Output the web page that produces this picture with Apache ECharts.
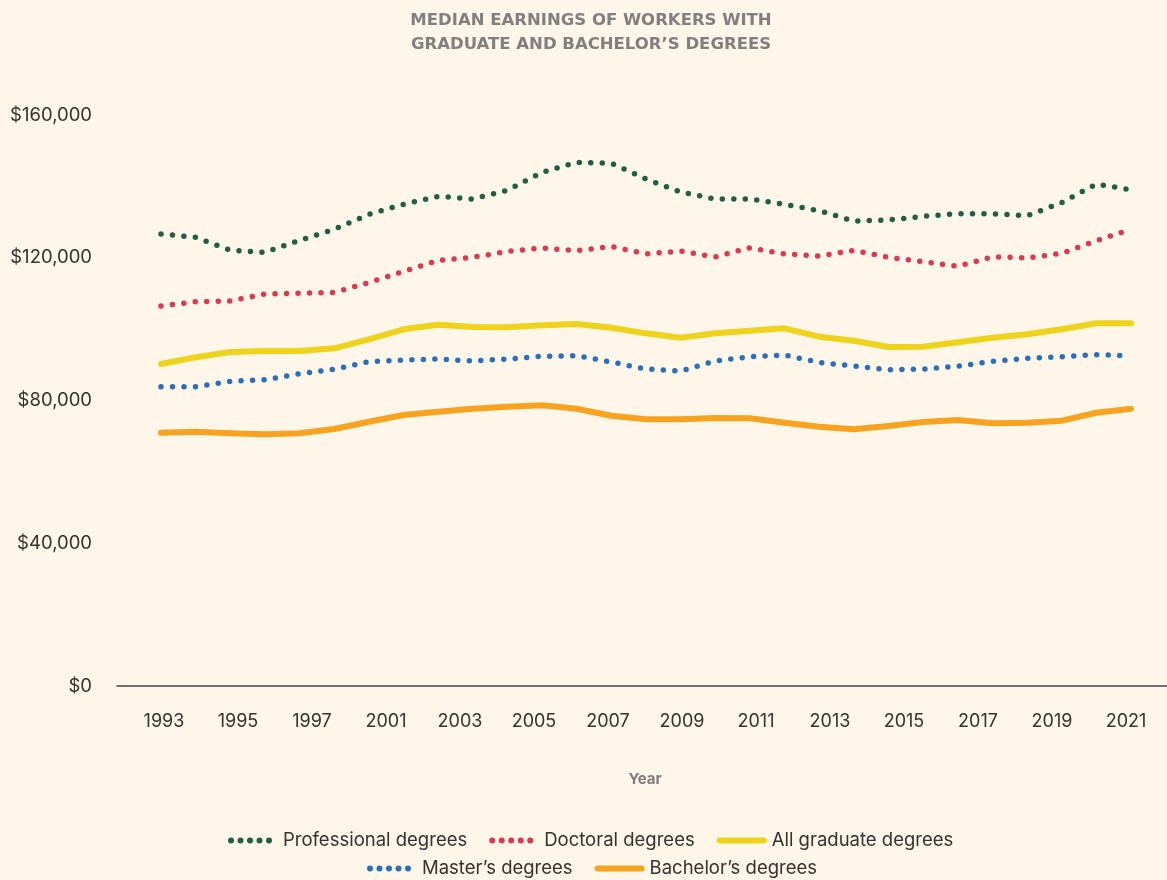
<!DOCTYPE html>
<html>
<head>
<meta charset="utf-8">
<title>Median earnings by degree</title>
<script src="https://cdn.jsdelivr.net/npm/echarts@6/dist/echarts.min.js"></script>
<style>
  html, body {
    margin: 0;
    padding: 0;
    background: #fdf6e9;
  }
  #chart {
    width: 1167px;
    height: 880px;
  }
</style>
</head>
<body>
<div id="chart"></div>
<script>
// survey years, one point per year
const years = [1993, 1994, 1995, 1996, 1997, 1998, 1999, 2000, 2001, 2002, 2003, 2004, 2005, 2006, 2007,
  2008, 2009, 2010, 2011, 2012, 2013, 2014, 2015, 2016, 2017, 2018, 2019, 2020, 2021]

// labels printed under the axis (as in the original figure)
const tickLabels = ['1993', '1995', '1997', '2001', '2003', '2005', '2007', '2009', '2011', '2013', '2015', '2017', '2019', '2021']

const professional = [126650, 125720, 122080, 121520, 124880, 127970, 132170, 134970, 137210, 136460, 138890, 143940, 146740, 146460, 142060,
  138420, 136460, 136460, 135000, 133180, 130290, 130570, 131610, 132340, 132340, 131780, 135420, 140660, 139070]
const doctoral = [106480, 107690, 107880, 109840, 110030, 110310, 113010, 116190, 119280, 120120, 121800, 122730, 121970, 123200, 121050,
  121890, 120210, 122810, 121050, 120490, 122080, 120120, 118890, 117600, 120290, 119930, 121240, 124770, 127970]
const allGraduate = [90220, 92100, 93590, 93870, 93870, 94620, 97140, 99950, 101240, 100590, 100500, 101070, 101430, 100400, 98820,
  97600, 98820, 99560, 100220, 97880, 96750, 94990, 95070, 96300, 97600, 98540, 99950, 101630, 101630]
const masters = [83870, 83870, 85370, 85830, 87510, 88740, 90870, 91350, 91630, 91070, 91630, 92380, 92550, 90780, 88820,
  88260, 91070, 92270, 92750, 90650, 89660, 88630, 88820, 89580, 90980, 91820, 92270, 92830, 92550]
const bachelors = [70980, 71260, 70800, 70520, 70800, 72010, 74060, 75930, 76860, 77700, 78260, 78650, 77700, 75740, 74730,
  74730, 75090, 75000, 73780, 72660, 71930, 72850, 73970, 74530, 73600, 73780, 74340, 76580, 77700]

const pairs = (vals) => years.map((y, i) => [y, vals[i]])

const FONT = 'Inter, "Noto Sans", sans-serif'

const dotted = (color) => ({
  color: color,
  width: 5.5,
  type: [0, 11.5],
  cap: 'round',
})
const solid = (color) => ({
  color: color,
  width: 6,
  cap: 'round',
  join: 'round',
})

// legend entries: dotted ones get a tighter dot spacing like the original key
const dotKey = (name) => ({ name: name, lineStyle: { width: 6, type: [0, 9.5], cap: 'round' } })
const lineKey = (name) => ({ name: name, lineStyle: { width: 6, cap: 'round' } })

const legendBase = {
  padding: 5,
  itemWidth: 44,
  itemHeight: 14,
  itemGap: 22,
  itemStyle: { opacity: 0 },
  textStyle: { fontFamily: FONT, fontSize: 18.5, color: '#333', padding: [0, 0, 0, 3] },
}

const chart = echarts.init(document.getElementById('chart'), null, { renderer: 'canvas' })

chart.setOption({
  backgroundColor: '#fdf6e9',
  animation: false,
  textStyle: { fontFamily: FONT },
  title: {
    text: 'MEDIAN EARNINGS OF WORKERS WITH\nGRADUATE AND BACHELOR\u2019S DEGREES',
    left: 586,
    top: 4,
    textAlign: 'center',
    textStyle: {
      fontFamily: '"DejaVu Sans", sans-serif',
      fontSize: 16.5,
      fontWeight: 'bold',
      color: '#808080',
      lineHeight: 24,
    },
  },
  legend: [Object.assign({}, legendBase, {
    data: [dotKey('Professional degrees'), dotKey('Doctoral degrees'), lineKey('All graduate degrees')],
    left: 223,
    top: 826,
  }), Object.assign({}, legendBase, {
    data: [dotKey('Master\u2019s degrees'), lineKey('Bachelor\u2019s degrees')],
    left: 362,
    top: 854,
  })],
  grid: [{
    left: 117,
    right: 0,
    top: 115,
    bottom: 194,
  }, {
    left: 127,
    right: 4,
    top: 115,
    bottom: 194,
  }],
  xAxis: [{
    type: 'value',
    gridIndex: 0,
    min: 1991.73,
    max: 2022.04,
    axisLine: { show: true, lineStyle: { color: '#444', width: 1.5 } },
    axisTick: { show: false },
    axisLabel: { show: false },
    splitLine: { show: false },
  }, {
    type: 'category',
    gridIndex: 1,
    data: tickLabels,
    boundaryGap: true,
    axisLine: { show: false },
    axisTick: { show: false },
    axisLabel: { fontSize: 18, color: '#333', margin: 27 },
    name: 'Year',
    nameLocation: 'middle',
    nameGap: 86,
    nameTextStyle: { fontSize: 15, fontWeight: 'bold', color: '#7d7d7d' },
  }],
  yAxis: [{
    type: 'value',
    gridIndex: 0,
    min: 0,
    max: 160000,
    interval: 40000,
    axisLine: { show: false },
    axisTick: { show: false },
    splitLine: { show: false },
    axisLabel: {
      fontSize: 18.5,
      color: '#333',
      margin: 25,
      formatter: (v) => '$' + v.toLocaleString('en-US'),
    },
  }, {
    type: 'value',
    gridIndex: 1,
    show: false,
  }],
  series: [{
    name: 'Professional degrees',
    type: 'line',
    data: pairs(professional),
    symbol: 'none',
    color: '#225e47',
    lineStyle: dotted('#225e47'),
  }, {
    name: 'Doctoral degrees',
    type: 'line',
    data: pairs(doctoral),
    symbol: 'none',
    color: '#e0374f',
    lineStyle: dotted('#e0374f'),
  }, {
    name: 'All graduate degrees',
    type: 'line',
    data: pairs(allGraduate),
    symbol: 'none',
    color: '#efd21b',
    lineStyle: solid('#efd21b'),
  }, {
    name: 'Master\u2019s degrees',
    type: 'line',
    data: pairs(masters),
    symbol: 'none',
    color: '#2a6fbe',
    lineStyle: dotted('#2a6fbe'),
  }, {
    name: 'Bachelor\u2019s degrees',
    type: 'line',
    data: pairs(bachelors),
    symbol: 'none',
    color: '#f8a31f',
    lineStyle: solid('#f8a31f'),
  }],
})

window.addEventListener('resize', () => {
  chart.resize()
})
</script>
</body>
</html>
